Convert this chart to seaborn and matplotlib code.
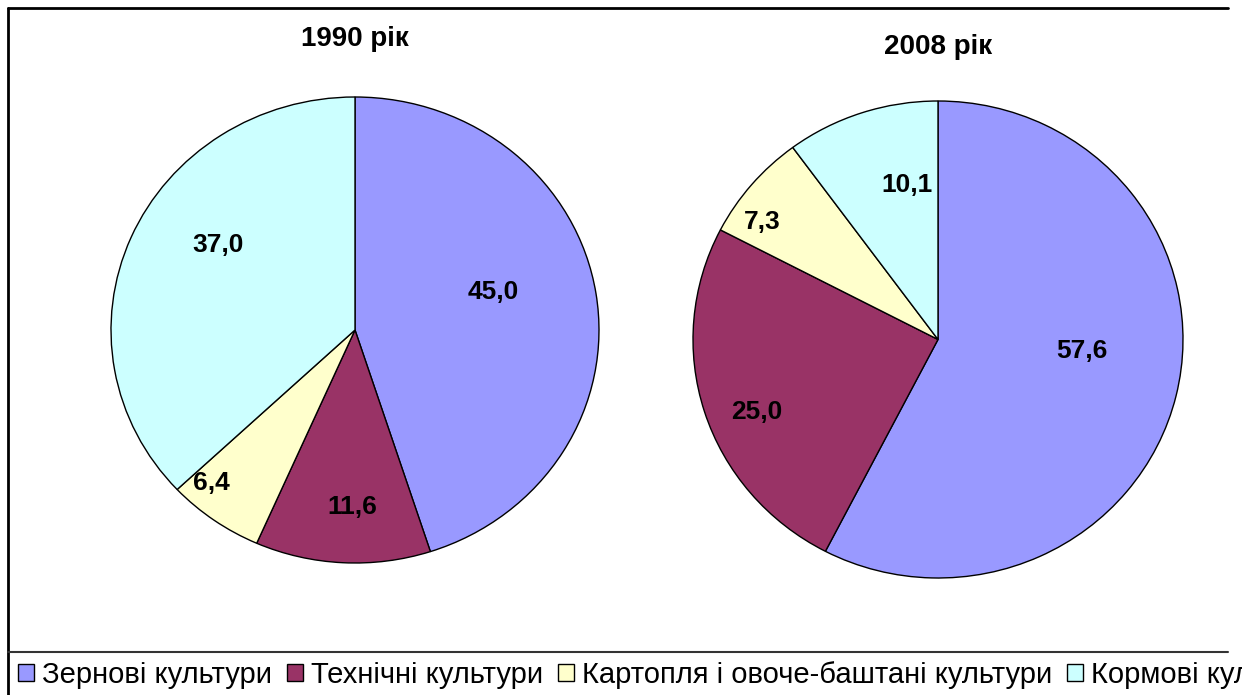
import matplotlib
matplotlib.use("Agg")
import matplotlib.pyplot as plt
from matplotlib.patches import Patch
from matplotlib.lines import Line2D
import numpy as np
import seaborn as sns

# data
categories = ['Зернові культури', 'Технічні культури',
              'Картопля і овоче-баштані культури', 'Кормові культури']
values_1990 = [45.0, 11.6, 6.4, 37.0]
values_2008 = [57.6, 25.0, 7.3, 10.1]
titles = ['1990 рік', '2008 рік']
colors = ['#9999FF', '#993366', '#FFFFCC', '#CCFFFF']

sns.set_theme(style="white")
plt.rcParams['font.family'] = ['Liberation Sans', 'DejaVu Sans']
plt.rcParams['text.color'] = 'black'

W, H = 1242, 695
fig = plt.figure(figsize=(W / 100, H / 100), dpi=100)


def px_axes(x0, y0, x1, y1):
    # pixel box (top-left origin) -> figure axes
    return fig.add_axes([x0 / W, 1 - y1 / H, (x1 - x0) / W, (y1 - y0) / H])


def draw_pie(ax, vals, places, title, title_y):
    wedges, _ = ax.pie(vals, colors=colors, startangle=90, counterclock=False,
                       wedgeprops=dict(edgecolor='black', linewidth=1.0))
    ax.set_aspect('auto')
    ax.set_xlim(-1, 1)
    ax.set_ylim(-1, 1)
    # label placement: (distance from centre, angle shift from wedge middle)
    for w, v, (d, shift) in zip(wedges, vals, places):
        ang = np.deg2rad((w.theta1 + w.theta2) / 2 + shift)
        ax.text(d * np.cos(ang), d * np.sin(ang), f'{v:.1f}'.replace('.', ','),
                ha='center', va='center', fontsize=19, fontweight='bold', color='black')
    ax.text(0, title_y, title, ha='center', va='center', fontsize=20,
            fontweight='bold', color='black', clip_on=False)


ax1 = px_axes(111, 97, 599, 563)
draw_pie(ax1, values_1990, [(0.59, 7), (0.76, 2), (0.88, -6.6), (0.67, -9.8)],
         titles[0], 1.25)

ax2 = px_axes(693, 101, 1183, 578)
draw_pie(ax2, values_2008, [(0.59, 8.8), (0.80, 4.6), (0.87, 5.9), (0.66, -7.1)],
         titles[1], 1.225)

# frame lines
fig.add_artist(Line2D([8 / W, 1228 / W], [1 - 8 / H, 1 - 8 / H], color='black', lw=2))
fig.add_artist(Line2D([8 / W, 8 / W], [1 - 8 / H, 0], color='black', lw=2))
fig.add_artist(Line2D([8 / W, 1228 / W], [1 - 652 / H, 1 - 652 / H], color='#333333', lw=1.5))

handles = [Patch(facecolor=c, edgecolor='black', linewidth=1) for c in colors]
fig.legend(handles, categories, loc='center left', bbox_to_anchor=(18 / W, 1 - 675 / H),
           ncol=4, frameon=False, fontsize=21, handlelength=0.55, handleheight=0.55,
           handletextpad=0.28, columnspacing=0.5, borderaxespad=0, borderpad=0,
           labelcolor='black')

fig.savefig('out.png', dpi=100)
